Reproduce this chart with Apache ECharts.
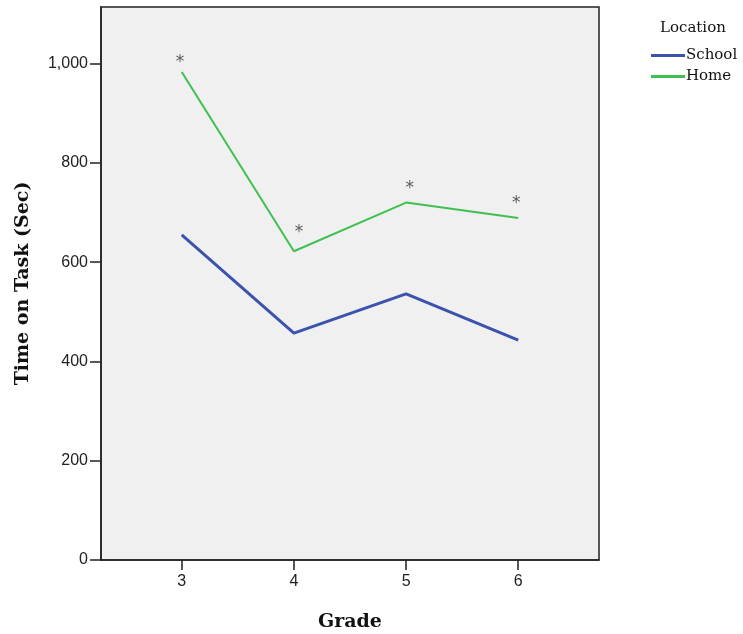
<!DOCTYPE html>
<html>
<head>
<meta charset="utf-8">
<script src="https://cdn.jsdelivr.net/npm/echarts@6/dist/echarts.min.js"></script>
<style>html,body{margin:0;padding:0;background:#fff}#c{width:743px;height:634px}</style>
</head>
<body>
<div id="c"></div>
<script>
const grades = [3, 4, 5, 6];
const schoolValues = [655, 457, 536, 443];
const homeValues = [983, 622, 720, 689];
// significance markers "*" (x, y in data units)
const starMarks = [[2.985, 1008], [4.045, 666], [5.033, 754], [5.983, 724]];
const yTicks = [0, 200, 400, 600, 800, 1000];

const chart = echarts.init(document.getElementById('c'));
const axisCol = '#222';
chart.setOption({
  backgroundColor: '#fff',
  animation: false,
  title: {
    text: 'Location', left: 660, top: 21, padding: 0,
    textStyle: {fontFamily: 'DejaVu Serif', fontSize: 15, fontWeight: 'normal', color: '#111'}
  },
  legend: {
    orient: 'vertical', left: 651, top: 48, padding: 0,
    icon: 'rect', itemWidth: 34, itemHeight: 3, itemGap: 6,
    data: ['School', 'Home'],
    textStyle: {fontFamily: 'DejaVu Serif', fontSize: 15, color: '#111', padding: [0,0,0,-4], lineHeight: 15}
  },
  grid: {left: 101, top: 7, right: 144, bottom: 74, show: true, backgroundColor: '#f0f0f0', borderColor: axisCol, borderWidth: 1.5,
    containLabel: false, outerBoundsMode: 'none'},
  xAxis: {
    type: 'value', min: 2.28, max: 6.72,
    name: 'Grade', nameLocation: 'middle', nameGap: 53,
    nameTextStyle: {fontFamily: 'DejaVu Serif', fontWeight: 'bold', fontSize: 19, color: '#111'},
    axisLine: {show: true, onZero: false, lineStyle: {color: axisCol, width: 1.5}},
    axisTick: {show: true, length: 10, customValues: grades, lineStyle: {color: axisCol, width: 1.5}},
    axisLabel: {customValues: grades, fontFamily: 'Liberation Sans', fontSize: 16, color: '#222', margin: 14},
    splitLine: {show: false}
  },
  yAxis: {
    type: 'value', min: 0, max: 1114,
    name: 'Time on Task (Sec)', nameLocation: 'middle', nameGap: 68,
    nameTextStyle: {fontFamily: 'DejaVu Serif', fontWeight: 'bold', fontSize: 19, color: '#111'},
    axisLine: {show: true, lineStyle: {color: axisCol, width: 1.5}},
    axisTick: {show: true, length: 11, customValues: yTicks, lineStyle: {color: axisCol, width: 1.5}},
    axisLabel: {customValues: yTicks, fontFamily: 'Liberation Sans', fontSize: 16, color: '#222', margin: 13,
      formatter: v => v.toLocaleString('en-US')},
    splitLine: {show: false}
  },
  series: [
    {name: 'School', type: 'line', data: grades.map((g, i) => [g, schoolValues[i]]),
     symbol: 'none', lineStyle: {color: '#3b53ad', width: 3}, itemStyle: {color: '#3b53ad'}},
    {name: 'Home', type: 'line', data: grades.map((g, i) => [g, homeValues[i]]),
     symbol: 'none', lineStyle: {color: '#3ec150', width: 2}, itemStyle: {color: '#3ec150'}},
    {name: 'marks', type: 'scatter', data: starMarks, symbolSize: 0, silent: true,
     label: {show: true, position: 'inside', formatter: '*', fontFamily: 'DejaVu Sans', fontSize: 17, color: '#333', offset: [0, 3]}}
  ]
});
</script>
</body>
</html>
